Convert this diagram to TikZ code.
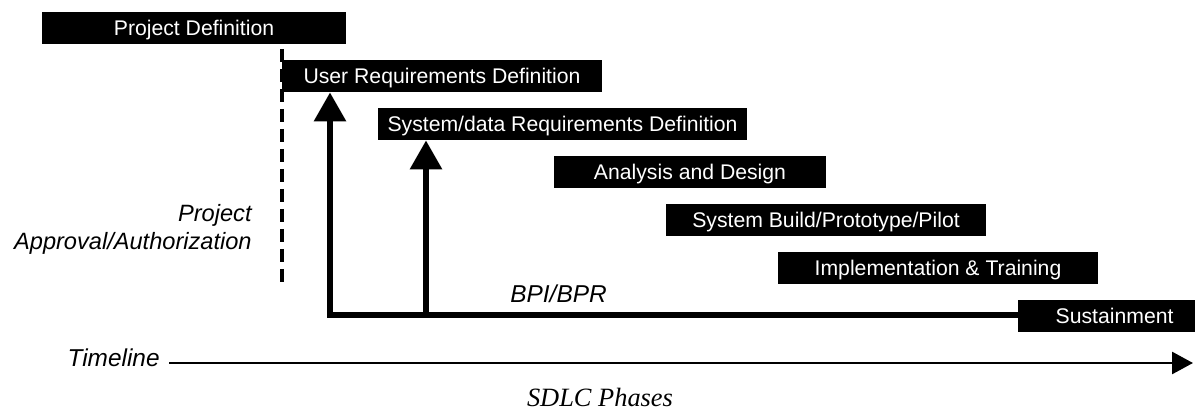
\documentclass[tikz,border=0pt]{standalone}
\usepackage{fontspec}
\setmainfont{Liberation Sans}
\newfontfamily\captionserif{Liberation Serif}
\usetikzlibrary{arrows.meta,positioning,calc}
\tikzset{
	phase/.style = {fill=black, text=white, rectangle, inner sep=0pt, minimum height=16pt, text height=7.6pt, text depth=0pt, font=\fontsize{10.6}{12}\selectfont},
	note/.style = {draw=none, inner sep=0pt, font=\fontsize{12.2}{14}\selectfont\itshape},
	coord/.style = {coordinate},
	gate/.style = {line width=1.6pt, dash pattern=on 6.5pt off 3.5pt},
	bpline/.style = {line width=3pt, -{Triangle[width=15.5pt,length=14.5pt]}},
	timeline/.style = {line width=1.4pt, -{Triangle[width=11pt,length=10.5pt]}}
}

\begin{document}
\begin{tikzpicture}[x=0.5pt, y=-0.5pt]
		\useasboundingbox (0,0) rectangle (1195,411);
		\node [phase, minimum width=152pt] (projdef) at (194,28) {Project Definition};
		\node [phase, minimum width=160pt] (userreq) at (442,76) {User Requirements Definition};
		\node [phase, minimum width=184.5pt] (sysreq) at (562.5,124) {System/data Requirements Definition};
		\node [phase, minimum width=136pt] (design) at (690,172) {Analysis and Design};
		\node [phase, minimum width=160pt] (build) at (826,220) {System Build/Prototype/Pilot};
		\node [phase, minimum width=160pt] (implement) at (938,268) {Implementation \& Training};
		\node [phase, minimum width=88.5pt, text width=67pt, align=right] (sustain) at (1106.5,316) {Sustainment};
		\node [note, align=right, anchor=east, font=\fontsize{11.8}{14}\selectfont\itshape] (approval) at (252,229) {Project\\Approval/Authorization};
		\node [note, anchor=base west] (bpi) at (510,303) {BPI/BPR};
		\node [note, anchor=base east] (timelabel) at (160,367) {Timeline};
		\node [anchor=base, font=\fontsize{13.2}{15}\captionserif\itshape] (sdlc) at (600,407) {SDLC Phases};
		\coordinate (gatetop) at (282,49);
		\coordinate (gatebottom) at (282,283);
		\coordinate (corner) at (330,315);
		\coordinate (branch) at (426,315);
		\coordinate (timeend) at (1193,363);
		\draw [gate] (gatetop) -- (gatebottom);
		\draw [bpline] (corner -| sustain.west) -- (corner) -- (corner |- userreq.south);
		\draw [bpline] (branch) -- (branch |- sysreq.south);
		\draw [timeline] ($(timelabel.east |- timeend)+(9,0)$) -- (timeend);
	    \end{tikzpicture}
\end{document}
